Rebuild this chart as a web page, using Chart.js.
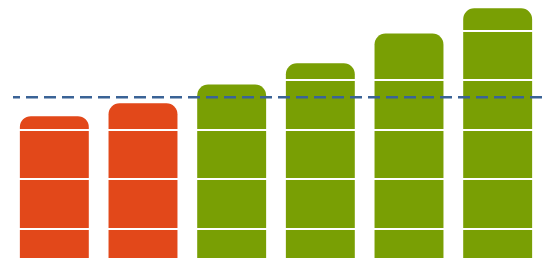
<!DOCTYPE html>
<html>
<head>
<meta charset="utf-8">
<script src="https://cdn.jsdelivr.net/npm/chart.js@4/dist/chart.umd.min.js"></script>
<style>
  html, body { margin: 0; padding: 0; background: #fff; }
  #wrap { width: 550px; height: 258px; }
</style>
</head>
<body>
<div id="wrap"><canvas id="bars"></canvas></div>
<script>
// data
const categories = ['2015', '2016', '2017', '2018', '2019', '2020'];
const values = [33.0, 35.6, 39.4, 43.7, 49.7, 54.8];
const targetValue = 36.6;
const gridTicks = [10, 20, 30, 40, 50];

const orange = '#e2481a';
const green = '#799f04';
const barColors = values.map((v) => (v < targetValue ? orange : green));

// dashed target line across the plot area
const targetLine = {
  id: 'targetLine',
  afterDatasetsDraw(chart) {
    const { ctx, chartArea, scales } = chart;
    const y = scales.y.getPixelForValue(targetValue);
    ctx.save();
    ctx.strokeStyle = '#3a6396';
    ctx.lineWidth = 2.5;
    ctx.setLineDash([12, 6]);
    ctx.lineDashOffset = 5;
    ctx.beginPath();
    ctx.moveTo(chartArea.left + 3, y);
    ctx.lineTo(chartArea.right + 1, y);
    ctx.stroke();
    ctx.restore();
  },
};

new Chart(document.getElementById('bars'), {
  type: 'bar',
  data: {
    labels: categories,
    datasets: [
      {
        data: values,
        backgroundColor: barColors,
        borderColor: 'rgba(255,255,255,0.35)',
        borderWidth: 1,
        borderRadius: { topLeft: 12, topRight: 12, bottomLeft: 0, bottomRight: 0 },
        borderSkipped: false,
        barPercentage: 0.8,
        categoryPercentage: 1.0,
      },
    ],
  },
  options: {
    responsive: true,
    maintainAspectRatio: false,
    animation: false,
    layout: { padding: { left: 10, right: 8, top: 0, bottom: 0 } },
    plugins: {
      legend: { display: false },
      tooltip: { enabled: false },
    },
    scales: {
      x: { display: false },
      y: {
        min: 4.14,
        max: 56.26,
        afterBuildTicks: (scale) => {
          scale.ticks = gridTicks.map((v) => ({ value: v }));
        },
        ticks: { display: false },
        border: { display: false },
        grid: { color: '#ffffff', lineWidth: 2, drawTicks: false, z: 1 },
      },
    },
  },
  plugins: [targetLine],
});
</script>
</body>
</html>
